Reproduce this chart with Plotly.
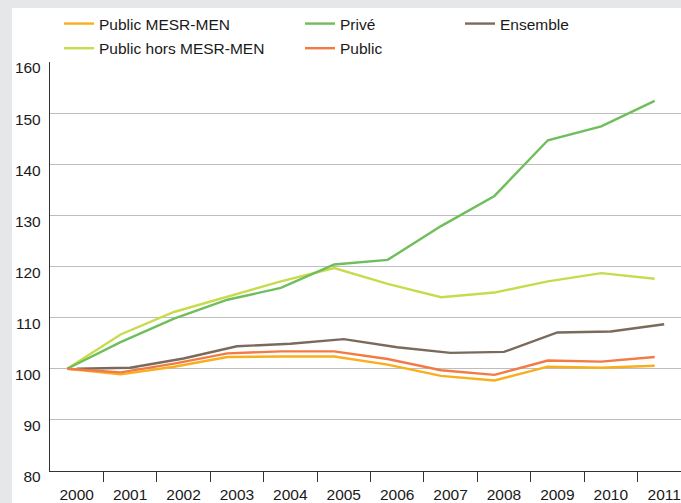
import plotly.graph_objects as go

years = [2000, 2001, 2002, 2003, 2004, 2005, 2006, 2007, 2008, 2009, 2010, 2011]
year_labels = [str(y) for y in years]

public_mesr_men = [100, 98.9, 100.4, 102.3, 102.4, 102.4, 100.8, 98.6, 97.7, 100.4, 100.2, 100.6]
public_hors_mesr_men = [100, 106.7, 111.1, 114.1, 117.1, 119.7, 116.6, 114.0, 114.9, 117.1, 118.7, 117.6]
prive = [100, 105.2, 109.8, 113.5, 115.8, 120.4, 121.3, 127.9, 133.8, 144.7, 147.4, 152.4]
public = [100, 99.3, 101.0, 103.0, 103.4, 103.4, 101.9, 99.7, 98.8, 101.6, 101.4, 102.3]
ensemble = [100, 100.2, 102.0, 104.4, 104.9, 105.8, 104.2, 103.1, 103.3, 107.1, 107.3, 108.7]

y_ticks = [80, 90, 100, 110, 120, 130, 140, 150, 160]

FONT = "Liberation Sans, Arial, sans-serif"
FS = 15.5
C_MESR = "#F9AE1E"
C_HORS = "#C8DB4C"
C_PRIVE = "#6FBE5C"
C_PUBLIC = "#F27A45"
C_ENS = "#7A6A5C"
LW = 2.4

fig = go.Figure()

fig.add_trace(go.Scatter(x=years, y=public_mesr_men, mode="lines", name="Public MESR-MEN",
                         line=dict(color=C_MESR, width=LW), xaxis="x2",
                         legend="legend", legendgroup="g1"))
fig.add_trace(go.Scatter(x=years, y=public_hors_mesr_men, mode="lines", name="Public hors MESR-MEN",
                         line=dict(color=C_HORS, width=LW), xaxis="x2",
                         legend="legend", legendgroup="g2"))
fig.add_trace(go.Scatter(x=years, y=prive, mode="lines", name="Privé",
                         line=dict(color=C_PRIVE, width=LW), xaxis="x2",
                         legend="legend2", legendgroup="g3"))
fig.add_trace(go.Scatter(x=years, y=public, mode="lines", name="Public",
                         line=dict(color=C_PUBLIC, width=LW), xaxis="x2",
                         legend="legend2", legendgroup="g4"))
fig.add_trace(go.Scatter(x=years, y=ensemble, mode="lines", name="Ensemble",
                         line=dict(color=C_ENS, width=LW), xaxis="x",
                         legend="legend3", legendgroup="g5"))

x_lo, x_hi = 1999.5, 2011.315
shift = 0.178

PL, PT, PW, PH = 50, 62, 631, 409


def px_x(px):
    return (px - PL) / PW


def px_y(py):
    return (PT + PH - py) / PH


legend_common = dict(xref="paper", yref="paper", xanchor="left", yanchor="top",
                     bgcolor="rgba(0,0,0,0)", font=dict(family=FONT, size=FS, color="#1a1a1a"),
                     tracegroupgap=1.5, itemwidth=30)

fig.update_layout(
    width=681, height=503,
    margin=dict(l=PL, r=0, t=PT, b=503 - PT - PH, autoexpand=False),
    paper_bgcolor="#E6E7E9",
    plot_bgcolor="white",
    font=dict(family=FONT, size=FS, color="#1a1a1a"),
    shapes=[dict(type="rect", xref="paper", yref="paper", layer="below",
                 x0=px_x(12), x1=1.05, y0=-0.2, y1=px_y(8),
                 fillcolor="white", line=dict(width=0))],
    xaxis=dict(range=[x_lo, x_hi], tickmode="array", tickvals=years, ticktext=year_labels,
               ticks="", showgrid=False, zeroline=False, showline=True,
               linecolor="#333333", linewidth=1.3,
               minor=dict(tickmode="array", tickvals=[y + 0.5 for y in years[:-1]],
                          ticks="outside", ticklen=10, tickwidth=1.2, tickcolor="#333333",
                          showgrid=False),
               tickfont=dict(family=FONT, size=FS, color="#1a1a1a"), ticklabelstandoff=9),
    xaxis2=dict(range=[x_lo + shift, x_hi + shift], overlaying="x", visible=False),
    yaxis=dict(range=[80, 160], tickmode="array", tickvals=y_ticks, ticks="",
               showgrid=True, gridcolor="#BDBDBD", gridwidth=1.3, zeroline=False,
               showline=True, linecolor="#333333", linewidth=1.3,
               tickfont=dict(family=FONT, size=FS, color="#1a1a1a"),
               ticklabelstandoff=5, ticklabelshift=6),
    legend=dict(x=px_x(59), y=px_y(7), **legend_common),
    legend2=dict(x=px_x(300), y=px_y(7), **legend_common),
    legend3=dict(x=px_x(460), y=px_y(7), **legend_common),
)

fig.write_html("out.html", config={"displayModeBar": False},
               post_script="document.body.style.margin='0';")
